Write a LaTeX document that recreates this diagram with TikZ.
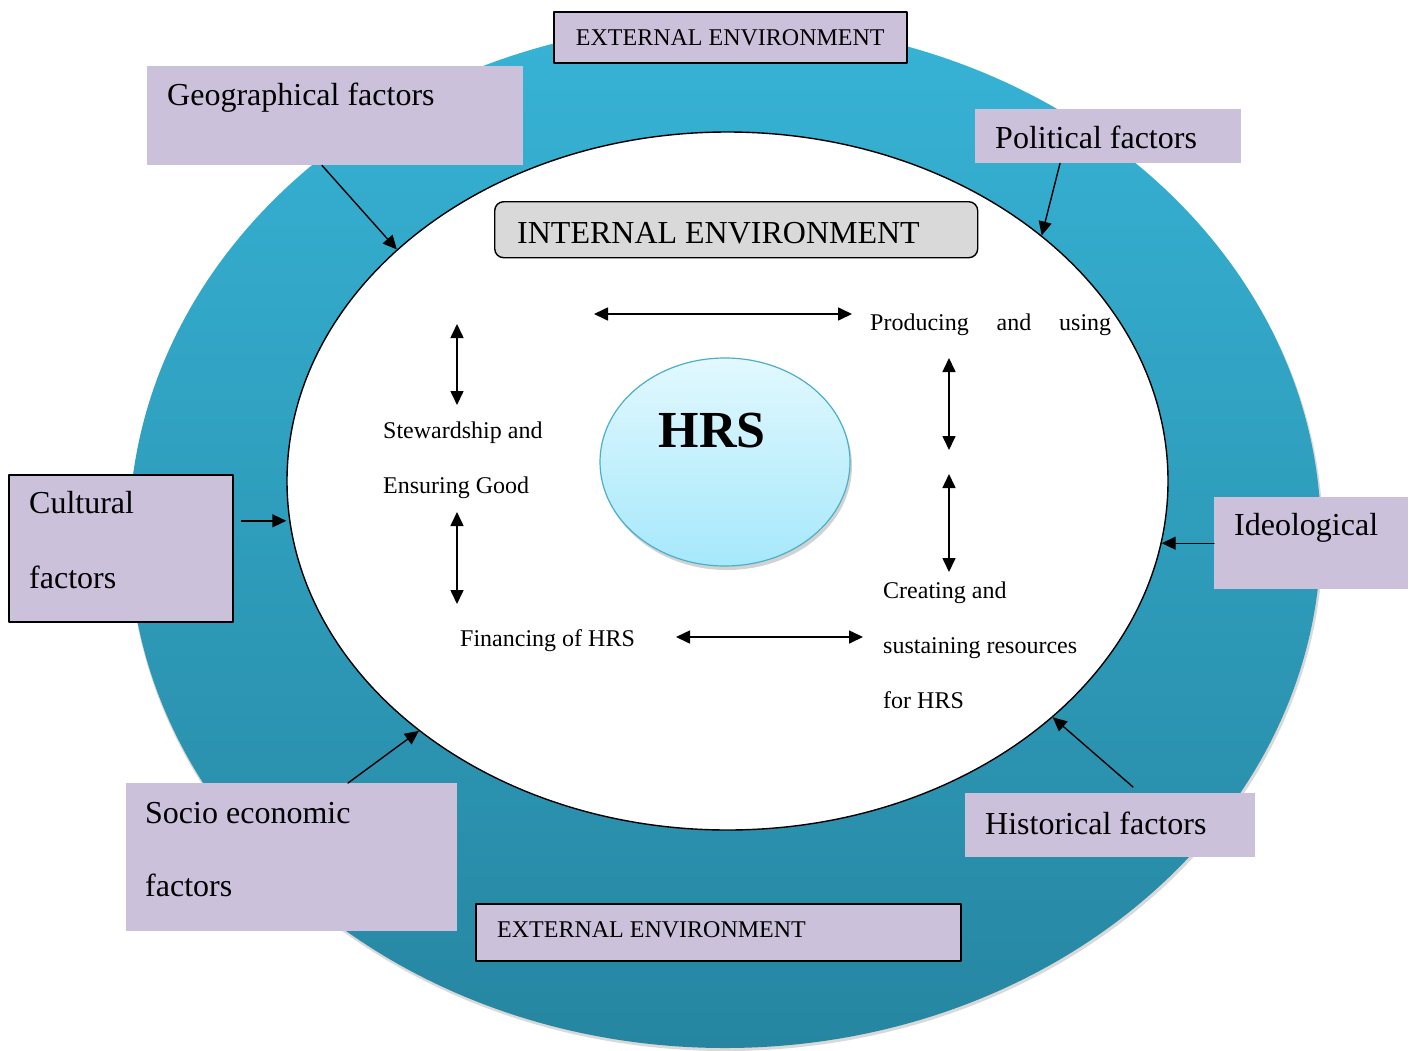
\documentclass[tikz,border=0pt]{standalone}
\usepackage{fontspec}
\setmainfont{Liberation Serif}
\usetikzlibrary{arrows.meta,shapes.geometric,shadows,calc}
\definecolor{lilac}{RGB}{203,193,219}
\definecolor{tealtop}{RGB}{55,179,214}
\definecolor{tealbot}{RGB}{38,134,161}
\definecolor{skytop}{RGB}{226,248,254}
\definecolor{skybot}{RGB}{166,232,251}
\definecolor{skyline}{RGB}{75,175,203}
\definecolor{litegray}{RGB}{217,217,217}

\begin{document}
\begin{tikzpicture}[line cap=round,line join=round,x=1pt,y=-1pt,
	factor/.style={fill=lilac,inner sep=0pt,anchor=north west},
	envbox/.style={factor,draw=black,line width=1.6pt},
	big/.style={font=\fontsize{32}{36}\selectfont,inner sep=0pt,anchor=base west},
	small/.style={font=\fontsize{24}{28}\selectfont,inner sep=0pt,anchor=base west},
	arr/.style={-{Triangle[length=14pt,width=13pt]},line width=1.4pt},
	dbl/.style={{Triangle[length=14pt,width=13pt]}-{Triangle[length=14pt,width=13pt]},line width=1.6pt}]
	\useasboundingbox (0,0) rectangle (1416,1050);
	% outer ring
	\fill [litegray] (726,538) ellipse [x radius=597, y radius=513];
	\shade [top color=tealtop,bottom color=tealbot] (725,535) ellipse [x radius=596, y radius=513];
	% inner ring
	\node [draw,ellipse,fill=white,line width=1.4pt,inner sep=0pt,minimum width=881,minimum height=698] (inner) at (727.5,481) {};
	\node [ellipse,draw=skyline,line width=1.2pt,top color=skytop,bottom color=skybot,
		minimum width=250,minimum height=208,inner sep=0pt,
		drop shadow={shadow xshift=2pt,shadow yshift=-4pt,opacity=0.35}] (hrs) at (725,462) {};
	\node [font=\bfseries\fontsize{52}{60}\selectfont] (hrslbl) at (712,431) {HRS};

	\node [draw,fill=litegray,rounded corners=9pt,line width=1.4pt,inner sep=0pt,anchor=north west,
		minimum width=483,minimum height=56] (intenv) at (494,201) {};
	\node [big] (intlbl) at (517,243) {INTERNAL ENVIRONMENT};

	% external boxes
	\node [envbox,minimum width=353,minimum height=51] (exttop) at (553,11) {};
	\node [font=\fontsize{24}{28}\selectfont] (exttoplbl) at (exttop.center) {EXTERNAL ENVIRONMENT};
	\node [envbox,minimum width=485,minimum height=57] (extbot) at (475,903) {};
	\node [small] (extbotlbl) at (497,937) {EXTERNAL ENVIRONMENT};

	% factors
	\node [factor,minimum width=376,minimum height=99] (geo) at (147,66) {};
	\node [big] (geolbl) at (167,105) {Geographical factors};
	\node [factor,minimum width=266,minimum height=54] (pol) at (975,109) {};
	\node [big] (pollbl) at (995,148) {Political factors};
	\node [envbox,minimum width=224,minimum height=147] (cult) at (8,474) {};
	\node [big] (cultlbl) at (29,513) {Cultural};
	\node [big] (cultlblb) at (29,588) {factors};
	\node [factor,minimum width=194,minimum height=92] (ideo) at (1214,497) {};
	\node [big] (ideolbl) at (1234,535) {Ideological};
	\node [factor,minimum width=331,minimum height=148] (socio) at (126,783) {};
	\node [big] (sociolbl) at (145,823) {Socio economic};
	\node [big] (sociolblb) at (145,896) {factors};
	\node [factor,minimum width=290,minimum height=64] (hist) at (965,793) {};
	\node [big] (histlbl) at (985,834) {Historical factors};

	\draw [arr] ($(geo.south west)+(175,0)$) -- (inner.145);
	\draw [arr] ($(pol.south west)+(85,0)$) -- (inner.38);
	\draw [arr] ($(cult.east)+(8,-27.5)$) coordinate (cultarr) -- (cultarr -| inner.west);
	\draw [arr] (ideo.west) -- ($(ideo.west -| inner.east)+(-7,0)$);
	\draw [arr] ($(socio.north west)+(222,0)$) -- (inner.219);
	\draw [arr] ($(hist.north west)+(168,-6)$) -- (inner.324);

	% functions inside
	\node [small] (prod) at (870,330) {\makebox[241pt][s]{Producing and using}};
	\node [small] (stew) at (383,438) {Stewardship and};
	\node [small] (ensu) at (383,493) {Ensuring Good};
	\node [small] (fina) at (460,646) {Financing of HRS};
	\node [small] (crea) at (883,598) {Creating and};
	\node [small] (sust) at (883,653) {sustaining resources};
	\node [small] (forh) at (883,708) {for HRS};

	\coordinate (topl) at (594,314);
	\coordinate (topr) at (852,314);
	\coordinate (lua) at (457,324);
	\coordinate (lub) at (457,405);
	\coordinate (lla) at (457,512);
	\coordinate (llb) at (457,604);
	\coordinate (rua) at (949,358);
	\coordinate (rub) at (949,450);
	\coordinate (rla) at (949,474);
	\coordinate (rlb) at (949,572);
	\coordinate (botl) at (676,637);
	\coordinate (botr) at (863,637);
	\draw [dbl] (topl) -- (topr);
	\draw [dbl] (lua) -- (lub);
	\draw [dbl] (lla) -- (llb);
	\draw [dbl] (rua) -- (rub);
	\draw [dbl] (rla) -- (rlb);
	\draw [dbl] (botl) -- (botr);
\end{tikzpicture}
\end{document}
